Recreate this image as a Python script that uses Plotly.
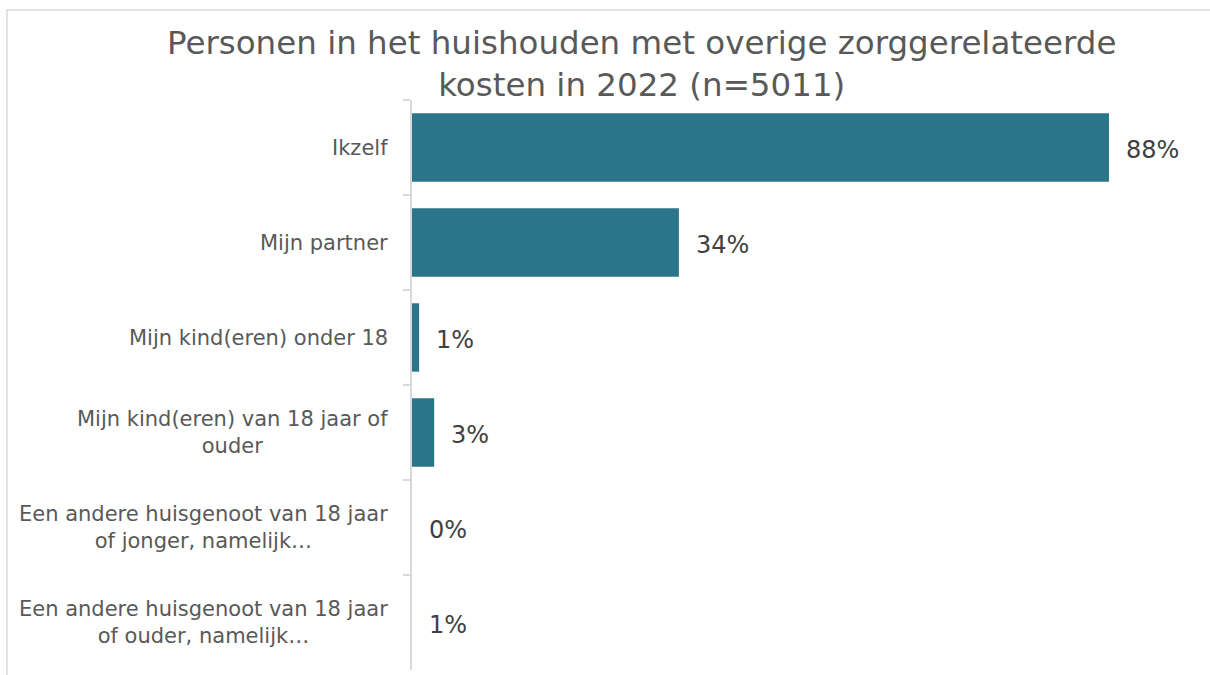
import plotly.graph_objects as go

# Data
categories = [
    "Ikzelf",
    "Mijn partner",
    "Mijn kind(eren) onder 18",
    "Mijn kind(eren) van 18 jaar of<br>ouder",
    "Een andere huisgenoot van 18 jaar<br>of jonger, namelijk…",
    "Een andere huisgenoot van 18 jaar<br>of ouder, namelijk…",
]
values = [88.0, 33.7, 0.9, 2.8, 0.0, 0.0]
value_labels = ["88%", "34%", "1%", "3%", "0%", "1%"]

title = "Personen in het huishouden met overige zorggerelateerde<br>kosten in 2022 (n=5011)"

FONT = "DejaVu Sans"
BAR = "#2a7589"
GRID = "#d9d9d9"

# plot area in pixels (used to place frame / title)
L, T, W, H = 412, 100, 792, 570

fig = go.Figure(go.Bar(
    x=values,
    y=categories,
    orientation="h",
    marker=dict(color=BAR, line=dict(width=0)),
    width=0.72,
    hoverinfo="skip",
))

# value labels to the right of each bar
for cat, v, lab in zip(categories, values, value_labels):
    fig.add_annotation(
        x=v, y=cat, xref="x", yref="y", text=lab, showarrow=False,
        xanchor="left", xshift=15, yshift=-2,
        font=dict(family=FONT, size=24, color="#404040"),
    )

# category labels, centered multi-line like the original
for cat in categories:
    fig.add_annotation(
        x=0, y=cat, xref="paper", yref="y", text=cat, showarrow=False,
        xanchor="right", xshift=-22, align="center",
        font=dict(family=FONT, size=21, color="#595959"),
    )

# title
fig.add_annotation(
    x=(641 - L) / W, y=(T + H - 22) / H, xref="paper", yref="paper",
    text=title, showarrow=False, xanchor="center", yanchor="top", align="center",
    font=dict(family=FONT, size=32.5, color="#595959"),
)

# chart frame
fig.add_shape(
    type="rect", xref="paper", yref="paper",
    x0=(7 - L) / W, x1=(1230 - L) / W,
    y0=(T + H - 690) / H, y1=(T + H - 10) / H,
    line=dict(color=GRID, width=1.5), layer="below",
)

fig.update_layout(
    width=1210, height=675,
    margin=dict(l=L, r=1210 - L - W, t=T, b=675 - T - H),
    paper_bgcolor="white", plot_bgcolor="white",
    showlegend=False,
    xaxis=dict(range=[0, 100], visible=False, fixedrange=True),
    yaxis=dict(
        autorange="reversed", showticklabels=False,
        showline=True, linecolor=GRID, linewidth=2,
        ticks="outside", tickson="boundaries", ticklen=7,
        tickcolor=GRID, tickwidth=1.5, showgrid=False, fixedrange=True,
    ),
)

fig.write_html(
    "out.html",
    config={"displayModeBar": False},
    post_script="document.body.style.margin='0';",
)
